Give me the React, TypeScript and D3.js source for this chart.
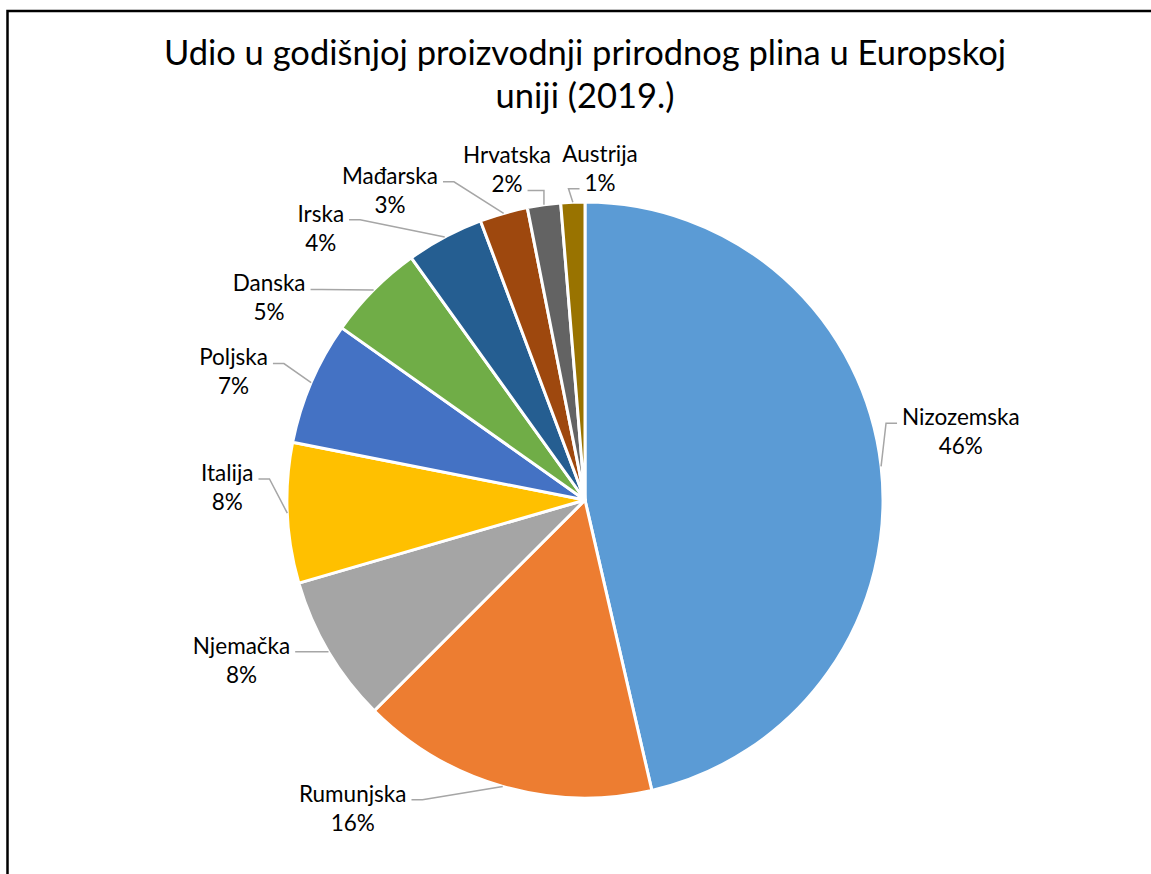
import * as d3 from 'd3';
import React, { useEffect, useRef } from 'react';

// Udio u godišnjoj proizvodnji prirodnog plina (2019.), u postocima
const countries = [
  'Nizozemska',
  'Rumunjska',
  'Njemačka',
  'Italija',
  'Poljska',
  'Danska',
  'Irska',
  'Mađarska',
  'Hrvatska',
  'Austrija'
];
const shares = [46.4, 16.1, 8.0, 7.6, 6.7, 5.3, 4.2, 2.6, 1.8, 1.3];
const colors = [
  '#5B9BD5',
  '#ED7D31',
  '#A5A5A5',
  '#FFC000',
  '#4472C4',
  '#70AD47',
  '#255E91',
  '#9E480E',
  '#636363',
  '#997300'
];
const titleLines = [
  'Udio u godišnjoj proizvodnji prirodnog plina u Europskoj',
  'uniji (2019.)'
];

// label placement, like the hand-placed labels of the original (deg clockwise from top, px from centre)
const labelAngle = [79.7, 217, 245, 272, 290, 302.6, 315.8, 327.8, 346.7, 2.6];
const labelDist = [382, 386, 379, 358, 374, 375, 379, 366, 339, 332];
// which text row the leader line starts from
const leaderRow = [0, 0, 0, 0, 0, 0, 0, 0, 1, 1];

const W = 1151;
const H = 874;
const FONT = 'Lato, "Open Sans", sans-serif';

export default function App() {
  const svgRef = useRef<SVGSVGElement | null>(null);

  useEffect(() => {
    const svg = d3.select(svgRef.current);
    svg.selectAll('*').remove();

    const cx = 585;
    const cy = 500;
    const radius = 298;
    const lineGap = 29;

    // frame of the chart area
    svg
      .append('rect')
      .attr('x', 7.5)
      .attr('y', 11)
      .attr('width', W + 20)
      .attr('height', H + 20)
      .attr('fill', 'white')
      .attr('stroke', '#000')
      .attr('stroke-width', 2.5);

    // title
    svg
      .append('g')
      .selectAll('text')
      .data(titleLines)
      .enter()
      .append('text')
      .attr('x', 585)
      .attr('y', (_, i) => 65 + i * 43)
      .attr('text-anchor', 'middle')
      .style('font-family', FONT)
      .style('font-size', '34.5px')
      .attr('fill', '#000')
      .text((d) => d);

    const data = countries.map((c, i) => ({ name: c, value: shares[i], i }));

    const pie = d3
      .pie<{ name: string; value: number; i: number }>()
      .sort(null)
      .value((d) => d.value);
    const arcs = pie(data);

    const arc = d3
      .arc<d3.PieArcDatum<{ name: string; value: number; i: number }>>()
      .innerRadius(0)
      .outerRadius(radius);

    const g = svg.append('g').attr('transform', `translate(${cx},${cy})`);

    g.selectAll('path')
      .data(arcs)
      .enter()
      .append('path')
      .attr('d', arc)
      .attr('fill', (d) => colors[d.data.i])
      .attr('stroke', '#fff')
      .attr('stroke-width', 3)
      .attr('stroke-linejoin', 'round');

    const polar = (deg: number, r: number): [number, number] => {
      const a = (deg * Math.PI) / 180;
      return [r * Math.sin(a), -r * Math.cos(a)];
    };

    const total = d3.sum(shares);

    arcs.forEach((d) => {
      const i = d.data.i;
      const mid = ((d.startAngle + d.endAngle) / 2) * (180 / Math.PI);
      const [ax, ay] = polar(mid, radius);
      const [lx, ly] = polar(labelAngle[i], labelDist[i]);

      const rows = [d.data.name, `${Math.round((d.data.value / total) * 100)}%`];
      const label = g.append('g');
      const texts = rows.map((t, r) =>
        label
          .append('text')
          .attr('x', lx)
          .attr('y', ly + (r - 0.5) * lineGap)
          .attr('dy', '0.35em')
          .attr('text-anchor', 'middle')
          .style('font-family', FONT)
          .style('font-size', '22.5px')
          .attr('fill', '#000')
          .text(t)
      );

      // leader line from the label edge to the slice
      const row = leaderRow[i];
      const wRow = (texts[row].node() as SVGTextElement).getComputedTextLength();
      const yRow = ly + (row - 0.5) * lineGap + 6;
      const right = ax > lx;
      const sx = right ? lx + wRow / 2 + 5 : lx - wRow / 2 - 5;
      const kx = right ? sx + 11 : sx - 11;
      const pts: [number, number][] =
        row === 1
          ? [
              [sx, yRow],
              [right ? Math.max(kx, ax) : Math.min(kx, ax), yRow],
              [ax, ay]
            ]
          : [
              [sx, yRow],
              [kx, yRow],
              [ax, ay]
            ];
      g.append('path')
        .attr('d', d3.line()(pts))
        .attr('fill', 'none')
        .attr('stroke', '#A6A6A6')
        .attr('stroke-width', 1.5);
    });
  }, []);

  return (
    <svg
      ref={svgRef}
      width={W}
      height={H}
      style={{ position: 'absolute', left: 0, top: 0, background: '#fff' }}
    />
  );
}
